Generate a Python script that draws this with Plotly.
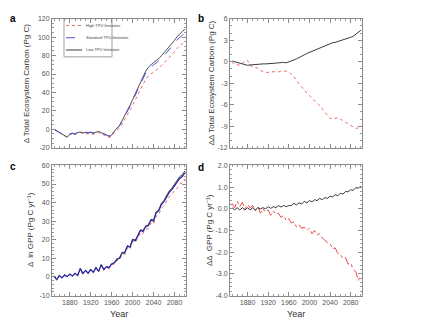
import plotly.graph_objects as go

years = list(range(1850, 2101, 5))

# Panel a: change in total ecosystem carbon (Pg C)
tec_standard = [0, -1.5, -3, -4.5, -6.5, -8, -5, -4, -5, -3, -2.5, -3.5, -3, -3.5, -3, -4, -3, -2, -3.5, -4.5,
                -6, -7.5, -6, -2, 1, 4, 9, 14, 19, 25, 31, 37, 44, 50, 56, 61, 65, 68, 70, 72,
                74, 77, 80, 83, 87, 90, 93, 97, 100, 102, 104]
tec_low = [0.1, -1.5, -3.2, -4.8, -6.9, -8.5, -5.5, -4.45, -5.4, -3.4, -2.85, -3.85, -3.3, -3.8, -3.3, -4.25,
           -3.2, -2.2, -3.65, -4.6, -6.1, -7.65, -6.05, -1.9, 1.25, 4.4, 9.55, 14.75, 19.95, 26.15, 32.3,
           38.45, 45.6, 51.75, 57.95, 63.1, 67.3, 70.45, 72.55, 74.65, 76.7, 79.8, 82.9, 86.05, 90.15,
           93.25, 96.4, 100.55, 103.8, 106.1, 108.4]
tec_high = [0, -1.9, -3.4, -5, -6.8, -7.9, -4.8, -4.5, -5.7, -3.8, -3.4, -4.7, -4.4, -4.95, -4.5, -5.4,
            -4.45, -3.4, -4.9, -5.85, -7.4, -8.8, -7.4, -3.7, -1.1, 1.4, 6, 10.5, 15, 20.7, 26.3, 31.9,
            38.6, 44.3, 49.9, 54.4, 58, 60.5, 62.1, 64, 66.1, 69.2, 72, 74.8, 78.6, 81.4, 84.2, 87.9,
            90.7, 92.8, 95]

# Panel b: difference from standard (Pg C)
dtec_low = [0.1, 0.0, -0.2, -0.3, -0.4, -0.5, -0.5, -0.45, -0.4, -0.4, -0.35, -0.35, -0.3, -0.3, -0.3,
            -0.25, -0.2, -0.2, -0.15, -0.1, -0.1, -0.15, -0.05, 0.1, 0.25, 0.4, 0.55, 0.75, 0.95, 1.15,
            1.3, 1.45, 1.6, 1.75, 1.95, 2.1, 2.3, 2.45, 2.55, 2.65, 2.7, 2.8, 2.9, 3.05, 3.15, 3.25,
            3.4, 3.55, 3.8, 4.1, 4.4]
dtec_high = [0.0, -0.4, -0.4, -0.5, -0.3, 0.1, 0.2, -0.5, -0.7, -0.8, -0.9, -1.2, -1.4, -1.45, -1.5,
             -1.4, -1.45, -1.4, -1.4, -1.35, -1.4, -1.3, -1.4, -1.7, -2.1, -2.6, -3.0, -3.5, -4.0,
             -4.3, -4.7, -5.1, -5.4, -5.7, -6.1, -6.6, -7.0, -7.5, -7.9, -8.0, -7.9, -7.8, -8.0,
             -8.2, -8.4, -8.6, -8.8, -9.1, -9.3, -9.2, -9.0]

# Panel c: change in GPP (Pg C / yr)
gpp_standard = [0.5, -1.5, 0.8, -0.5, 1.0, 0.2, 1.5, 0.5, 2.0, 0.8, 4.5, 1.8, 3.5, 2.0, 4.0, 2.5, 5.0,
                3.0, 6.5, 4.0, 5.5, 5.0, 7.0, 7.5, 9.5, 10.0, 13.0, 13.0, 16.5, 16.0, 20.0, 19.5,
                22.0, 25.0, 24.5, 27.0, 27.5, 30.5, 30.0, 34.5, 35.5, 39.0, 40.5, 43.0, 45.5, 47.0,
                49.0, 50.5, 53.0, 54.0, 56.0]
gpp_high = [0.75, -1.45, 1.15, -0.4, 1.3, 0.2, 1.7, 0.55, 2.15, 0.7, 4.6, 1.6, 3.5, 1.85, 3.95, 2.2,
            4.9, 2.75, 6.3, 3.6, 5.2, 4.45, 6.55, 6.85, 8.9, 9.15, 12.25, 12.1, 15.65, 15.0, 19.1,
            18.35, 21.0, 23.8, 23.35, 25.65, 26.05, 28.95, 28.4, 32.65, 33.7, 36.95, 38.4, 40.7,
            43.25, 44.45, 46.5, 47.7, 50.1, 50.7, 52.95]
gpp_low = [0.55, -1.55, 0.85, -0.55, 1.05, 0.15, 1.55, 0.45, 2.05, 0.75, 4.55, 1.8, 3.55, 2.0, 4.1,
           2.52, 5.1, 3.05, 6.65, 4.08, 5.65, 5.1, 7.15, 7.65, 9.75, 10.18, 13.28, 13.22, 16.85,
           16.27, 20.38, 19.82, 22.42, 25.38, 24.98, 27.42, 28.02, 30.98, 30.58, 35.05, 36.15,
           39.6, 41.22, 43.68, 46.3, 47.78, 49.88, 51.35, 53.98, 54.95, 57.05]

# Panel d: difference in GPP from standard (Pg C / yr)
dgpp_high = [0.25, 0.05, 0.35, 0.1, 0.3, 0.0, 0.2, 0.05, 0.15, -0.1, 0.1, -0.2, 0.0, -0.15, -0.05,
             -0.3, -0.1, -0.25, -0.2, -0.4, -0.3, -0.55, -0.45, -0.65, -0.6, -0.85, -0.75, -0.9,
             -0.85, -1.0, -0.9, -1.15, -1.0, -1.2, -1.15, -1.35, -1.45, -1.55, -1.6, -1.85, -1.8,
             -2.05, -2.1, -2.3, -2.25, -2.55, -2.5, -2.8, -2.9, -3.3, -3.05]
dgpp_low = [0.05, -0.05, 0.05, -0.05, 0.05, -0.05, 0.05, -0.05, 0.05, -0.05, 0.05, 0.0, 0.05, 0.0,
            0.1, 0.02, 0.1, 0.05, 0.15, 0.08, 0.15, 0.1, 0.15, 0.15, 0.25, 0.18, 0.28, 0.22, 0.35,
            0.27, 0.38, 0.32, 0.42, 0.38, 0.48, 0.42, 0.52, 0.48, 0.58, 0.55, 0.65, 0.6, 0.72,
            0.68, 0.8, 0.78, 0.88, 0.85, 0.98, 0.95, 1.05]

legend_labels = ["High TPU limitation", "Standard TPU limitation", "Low TPU limitation"]
xticks = [1880, 1920, 1960, 2000, 2040, 2080]

RED = "#f06a6a"
BLUE = "#5050d8"
DARKBLUE = "#2a2aa8"
BLACK = "#3a3a3a"
W, H = 431, 324


def px(x):
    return x / W


def py(y):
    return 1 - y / H


fig = go.Figure()

# panel a
fig.add_trace(go.Scatter(x=years, y=tec_high, mode="lines", line=dict(color=RED, width=1, dash="dot"), xaxis="x", yaxis="y"))
fig.add_trace(go.Scatter(x=years, y=tec_low, mode="lines", line=dict(color=BLACK, width=0.9), xaxis="x", yaxis="y"))
fig.add_trace(go.Scatter(x=years, y=tec_standard, mode="lines", line=dict(color=BLUE, width=1, dash="dash"), xaxis="x", yaxis="y"))
# panel b
fig.add_trace(go.Scatter(x=years, y=dtec_high, mode="lines", line=dict(color=RED, width=1, dash="dot"), xaxis="x2", yaxis="y2"))
fig.add_trace(go.Scatter(x=years, y=dtec_low, mode="lines", line=dict(color=BLACK, width=1), xaxis="x2", yaxis="y2"))
# panel c
fig.add_trace(go.Scatter(x=years, y=gpp_high, mode="lines", line=dict(color=RED, width=1, dash="dot"), xaxis="x3", yaxis="y3"))
fig.add_trace(go.Scatter(x=years, y=gpp_low, mode="lines", line=dict(color=BLACK, width=1), xaxis="x3", yaxis="y3"))
fig.add_trace(go.Scatter(x=years, y=gpp_standard, mode="lines", line=dict(color=DARKBLUE, width=1.2), xaxis="x3", yaxis="y3"))
# panel d
fig.add_trace(go.Scatter(x=years, y=dgpp_high, mode="lines", line=dict(color="#f04848", width=1, dash="dashdot"), xaxis="x4", yaxis="y4"))
fig.add_trace(go.Scatter(x=years, y=dgpp_low, mode="lines", line=dict(color=BLACK, width=1), xaxis="x4", yaxis="y4"))

tickfont = dict(size=7, color="#555555")
common = dict(showline=True, linecolor="#8a8a8a", linewidth=1, mirror="ticks", ticks="inside",
              ticklen=4, tickcolor="#8a8a8a", showgrid=False, zeroline=False, tickfont=tickfont)

xl = [px(52), px(186)]
xr = [px(230), px(362)]
yt = [py(147), py(15)]
yb = [py(298), py(165)]
xrange_ = [1846, 2102]


def xax(domain, anchor, labels):
    d = dict(common)
    d.update(domain=domain, anchor=anchor, range=xrange_, tickvals=xticks,
             ticktext=[str(v) for v in xticks], showticklabels=labels,
             minor=dict(ticks="inside", ticklen=2, tickcolor="#9a9a9a", dtick=10, tick0=1850))
    return d


def yax(domain, anchor, rng, vals, texts, mdt):
    d = dict(common)
    d.update(domain=domain, anchor=anchor, range=rng, tickvals=vals, ticktext=texts,
             minor=dict(ticks="inside", ticklen=2, tickcolor="#9a9a9a", dtick=mdt, tick0=rng[0]))
    return d


def lbl(v, fmt="{:g}"):
    return [fmt.format(x) for x in v]


a_vals = list(range(-20, 121, 20))
b_vals = list(range(-12, 7, 3))
c_vals = list(range(-10, 61, 10))
d_vals = [-4, -3, -2, -1, 0, 1, 2]

fig.update_layout(
    width=W, height=H, margin=dict(l=0, r=0, t=0, b=0),
    paper_bgcolor="white", plot_bgcolor="white", showlegend=False,
    font=dict(family="Liberation Sans, Arial, sans-serif"),
    xaxis=xax(xl, "y", False), yaxis=yax(yt, "x", [-20, 120], a_vals, lbl(a_vals), 5),
    xaxis2=xax(xr, "y2", False), yaxis2=yax(yt, "x2", [-12, 6], b_vals, lbl(b_vals), 1),
    xaxis3=xax(xl, "y3", True), yaxis3=yax(yb, "x3", [-10, 60], c_vals, lbl(c_vals), 2),
    xaxis4=xax(xr, "y4", True), yaxis4=yax(yb, "x4", [-4, 2], d_vals, lbl(d_vals, "{:.1f}"), 0.2),
)

ann = []
title_font = dict(size=8, color="#333333")
for text, x, y in [("\u0394 Total Ecosystem Carbon (Pg C)", 26, 81),
                   ("\u0394\u0394 Total Ecosystem Carbon (Pg C)", 211, 81),
                   ("\u0394  in GPP (Pg C yr\u207b\u00b9)", 30, 231),
                   ("\u0394\u0394  GPP (Pg C yr\u207b\u00b9)", 209, 231)]:
    ann.append(dict(text=text, x=px(x), y=py(y), xref="paper", yref="paper", textangle=-90,
                    showarrow=False, font=title_font, xanchor="center", yanchor="middle"))
for x in (119, 296):
    ann.append(dict(text="Year", x=px(x), y=py(317), xref="paper", yref="paper", showarrow=False,
                    font=dict(size=9, color="#333333"), xanchor="center", yanchor="middle"))
for t, x, y in [("a", 13, 15), ("b", 201, 15), ("c", 13, 166), ("d", 201, 167)]:
    ann.append(dict(text=t, x=px(x), y=py(y), xref="paper", yref="paper",
                    showarrow=False, font=dict(size=10, color="black", weight="bold"),
                    xanchor="center", yanchor="middle"))

# legend box inside panel a
shapes = [dict(type="rect", xref="paper", yref="paper", x0=px(64), x1=px(112), y0=py(54), y1=py(15),
               line=dict(color="#8a8a8a", width=0.8), fillcolor="rgba(0,0,0,0)")]
leg_styles = [(RED, "dot"), (BLUE, "dash"), (BLACK, "solid")]
for i, (label, (col, dash)) in enumerate(zip(legend_labels, leg_styles)):
    yy = 22 + i * 12.5
    shapes.append(dict(type="line", xref="paper", yref="paper", x0=px(66), x1=px(82), y0=py(yy), y1=py(yy),
                       line=dict(color=col, width=1, dash=dash)))
    ann.append(dict(text=label, x=px(84), y=py(yy), xref="paper", yref="paper", showarrow=False,
                    font=dict(size=4, color="#444444"), xanchor="left", yanchor="middle"))

fig.update_layout(annotations=ann, shapes=shapes)
fig.write_html("out.html")
